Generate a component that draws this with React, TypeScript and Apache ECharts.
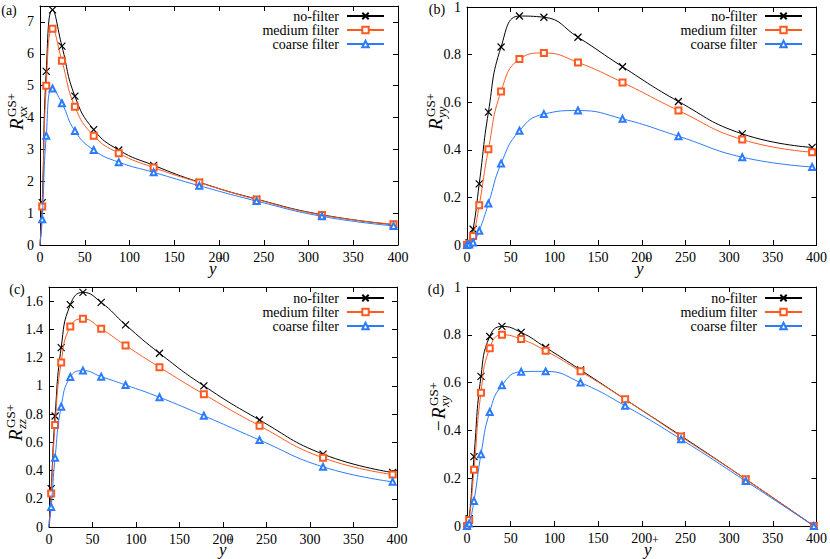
import React, { useEffect, useRef } from 'react';
import * as echarts from 'echarts';

const FONT = 'Liberation Serif';
const COLORS = ['#000000', '#ff5a1f', '#2b7bff'];
const SYMBOLS = ['path://M0,0L10,10M10,0L0,10', 'emptyRect', 'emptyTriangle'];
const SYMBOL_SIZES = [7, 6, 6];

const seriesNames = ['no-filter', 'medium filter', 'coarse filter'];
const yPlus = [0, 2.5, 7, 14, 24.5, 39, 60, 88, 127, 178, 242, 315, 395];
const yPlusShear = [0, 2.5, 8, 16, 26, 40, 62, 90, 130, 181, 245, 319, 397];
const xTicks = [0, 50, 100, 150, 200, 250, 300, 350, 400];

const rxxNoFilter = [0, 1.33, 5.45, 7.38, 6.24, 4.67, 3.62, 2.98, 2.5, 1.97, 1.44, 0.95, 0.64];
const rxxMedium = [0, 1.21, 5.0, 6.79, 5.78, 4.34, 3.43, 2.88, 2.43, 1.96, 1.43, 0.94, 0.65];
const rxxCoarse = [0, 0.81, 3.43, 4.91, 4.45, 3.58, 2.98, 2.6, 2.28, 1.86, 1.38, 0.9, 0.6];

const ryyNoFilter = [0, 0.01, 0.066, 0.257, 0.558, 0.832, 0.962, 0.957, 0.873, 0.749, 0.603, 0.467, 0.41];
const ryyMedium = [0, 0.005, 0.038, 0.167, 0.402, 0.645, 0.781, 0.807, 0.767, 0.683, 0.565, 0.443, 0.39];
const ryyCoarse = [0, 0.002, 0.011, 0.06, 0.174, 0.342, 0.48, 0.55, 0.565, 0.53, 0.457, 0.369, 0.328];

const rzzNoFilter = [0, 0.272, 0.786, 1.271, 1.575, 1.662, 1.591, 1.432, 1.231, 1.0, 0.758, 0.516, 0.386];
const rzzMedium = [0, 0.237, 0.722, 1.165, 1.42, 1.475, 1.404, 1.286, 1.132, 0.94, 0.717, 0.49, 0.372];
const rzzCoarse = [0, 0.142, 0.49, 0.852, 1.063, 1.108, 1.065, 1.006, 0.919, 0.788, 0.616, 0.426, 0.32];

const rxyNoFilter = [0, 0.031, 0.29, 0.626, 0.793, 0.835, 0.81, 0.747, 0.653, 0.53, 0.377, 0.196, 0];
const rxyMedium = [0, 0.025, 0.235, 0.558, 0.744, 0.8, 0.782, 0.733, 0.647, 0.53, 0.374, 0.196, 0];
const rxyCoarse = [0, 0.01, 0.105, 0.3, 0.477, 0.589, 0.645, 0.647, 0.6, 0.503, 0.363, 0.188, 0];

const panels = [
  {
    tag: '(a)', tagPos: [9, 10],
    grid: { left: 40, top: 6, width: 358, height: 239 },
    ymax: 7.5, yint: 1, xs: yPlus, data: [rxxNoFilter, rxxMedium, rxxCoarse],
    sub: 'xx', minus: false, hideOrigin: true, ylab: [16, 130], xlab: [209, 268],
    legendTop: 9, legendRight: 445,
  },
  {
    tag: '(b)', tagPos: [437, 9],
    grid: { left: 467, top: 6, width: 350, height: 239 },
    ymax: 1, yint: 0.2, xs: yPlus, data: [ryyNoFilter, ryyMedium, ryyCoarse],
    sub: 'yy', minus: false, hideOrigin: false, ylab: [435, 130], xlab: [636, 268],
    legendTop: 9, legendRight: 27,
  },
  {
    tag: '(c)', tagPos: [17, 289],
    grid: { left: 49, top: 287, width: 348, height: 240 },
    ymax: 1.7, yint: 0.2, xs: yPlus, data: [rzzNoFilter, rzzMedium, rzzCoarse],
    sub: 'zz', minus: false, hideOrigin: true, ylab: [15.5, 441], xlab: [219, 549],
    legendTop: 291, legendRight: 445,
  },
  {
    tag: '(d)', tagPos: [436, 289],
    grid: { left: 467, top: 287, width: 350, height: 239 },
    ymax: 1, yint: 0.2, xs: yPlusShear, data: [rxyNoFilter, rxyMedium, rxyCoarse],
    sub: 'xy', minus: true, hideOrigin: false, ylab: [438, 431], xlab: [644, 549],
    legendTop: 291, legendRight: 27,
  },
];

function txt(x: number, y: number, text: string, size: number, italic = false, align = 'left') {
  return {
    type: 'text', x, y,
    style: { text, fontFamily: FONT, fontSize: size, fontStyle: italic ? 'italic' : 'normal', fill: '#000', align, verticalAlign: 'middle' },
  };
}

function yLabelGraphic(gx: number, gy: number, sub: string, minus: boolean) {
  const children: any[] = [];
  let x0 = 0;
  if (minus) {
    children.push(txt(0, 0, '−', 19));
    x0 = 12;
  }
  children.push(txt(x0, 0, 'R', 19, true));
  children.push(txt(x0 + 13, -5, 'GS+', 13));
  children.push(txt(x0 + 12, 6, sub, 13, true));
  return { type: 'group', x: gx, y: gy, rotation: Math.PI / 2, children };
}

function xLabelGraphic(x: number, y: number) {
  return {
    type: 'group', x, y,
    children: [txt(0, 0, 'y', 17, true), txt(8, -9, '+', 12)],
  };
}

export default function App() {
  const ref = useRef<HTMLDivElement>(null);
  useEffect(() => {
    if (!ref.current) return;
    const chart = echarts.init(ref.current, undefined, { renderer: 'svg' });
    const axisCommon = {
      type: 'value',
      axisLine: { show: true, onZero: false, lineStyle: { color: '#000', width: 1 } },
      axisTick: { show: true, inside: true, length: 5, lineStyle: { color: '#000', width: 1 } },
      splitLine: { show: false },
    };
    const xAxes: any[] = [];
    const yAxes: any[] = [];
    const series: any[] = [];
    panels.forEach((p, i) => {
      xAxes.push({
        ...axisCommon, gridIndex: i, min: 0, max: 400, interval: 50, position: 'bottom',
        axisLabel: { color: '#000', fontFamily: FONT, fontSize: 14, margin: 5, formatter: (v: number) => (xTicks.includes(v) ? String(v) : '') },
      });
      xAxes.push({
        ...axisCommon, gridIndex: i, min: 0, max: 400, interval: 50, position: 'top',
        axisLabel: { show: false },
      });
      yAxes.push({
        ...axisCommon, gridIndex: i, min: 0, max: p.ymax, interval: p.yint, position: 'left',
        axisLabel: { color: '#000', fontFamily: FONT, fontSize: 14, margin: 6, showMaxLabel: p.ymax === 1 },
      });
      yAxes.push({
        ...axisCommon, gridIndex: i, min: 0, max: p.ymax, interval: p.yint, position: 'right',
        axisLabel: { show: false },
      });
      p.data.forEach((vals, k) => {
        series.push({
          type: 'line',
          name: seriesNames[k],
          xAxisIndex: 2 * i,
          yAxisIndex: 2 * i,
          data: p.xs.map((x, j) =>
            j === 0 && p.hideOrigin ? { value: [x, vals[j]], symbol: 'none' } : [x, vals[j]]
          ),
          smooth: 0.5,
          symbol: SYMBOLS[k],
          symbolSize: SYMBOL_SIZES[k],
          lineStyle: { color: COLORS[k], width: 1 },
          itemStyle: { color: COLORS[k], borderColor: COLORS[k], borderWidth: k === 0 ? 1.2 : 1 },
          emphasis: { disabled: true },
          z: 2 + k,
        });
      });
    });
    const graphic: any[] = [];
    panels.forEach((p) => {
      graphic.push(txt(p.tagPos[0], p.tagPos[1], p.tag, 14, false, 'center'));
      graphic.push(yLabelGraphic(p.ylab[0], p.ylab[1], p.sub, p.minus));
      graphic.push(xLabelGraphic(p.xlab[0], p.xlab[1]));
    });
    chart.setOption({
      animation: false,
      backgroundColor: '#fff',
      textStyle: { fontFamily: FONT },
      grid: panels.map((p) => ({ ...p.grid, containLabel: false })),
      xAxis: xAxes,
      yAxis: yAxes,
      legend: panels.map((p) => ({
        orient: 'vertical',
        right: p.legendRight,
        top: p.legendTop,
        padding: 0,
        align: 'right',
        itemWidth: 37,
        itemHeight: 8,
        itemGap: 0,
        selectedMode: false,
        textStyle: { color: '#000', fontFamily: FONT, fontSize: 14, lineHeight: 14, padding: [0, 3, 0, 0] },
        data: seriesNames,
      })),
      series,
      graphic,
    });
    return () => chart.dispose();
  }, []);
  return <div ref={ref} style={{ position: 'fixed', left: 0, top: 0, width: 830, height: 559 }} />;
}
